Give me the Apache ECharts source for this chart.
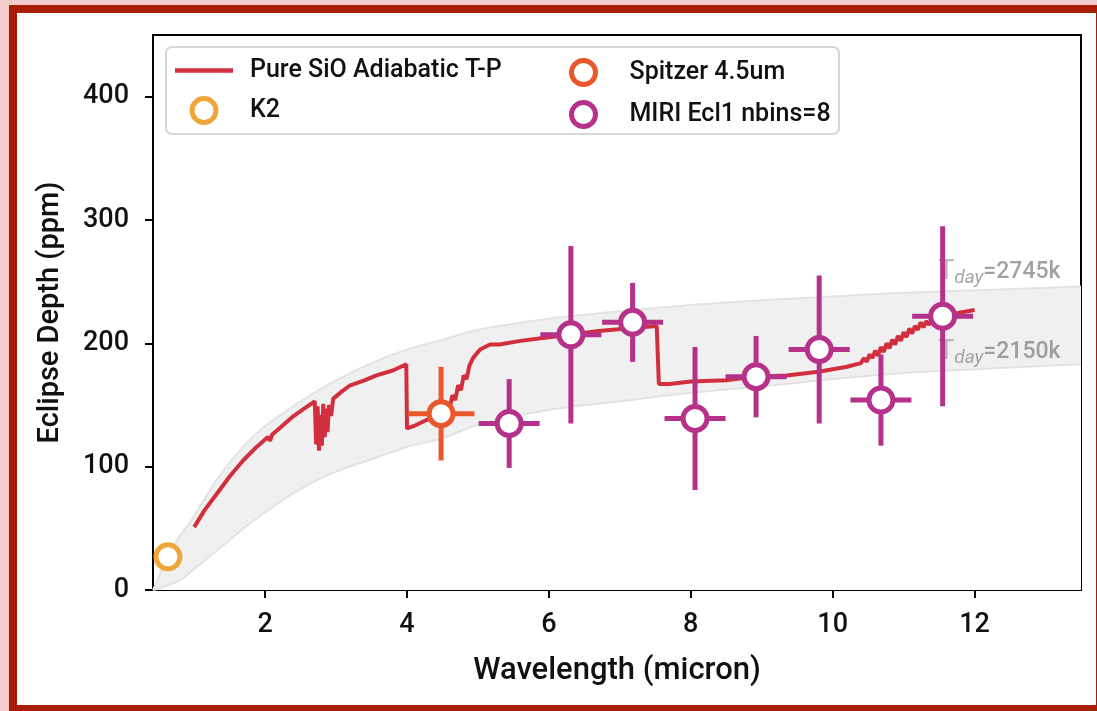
<!DOCTYPE html>
<html>
<head>
<meta charset="utf-8">
<script src="https://cdn.jsdelivr.net/npm/echarts@6/dist/echarts.min.js"></script>
<style>
  html, body { margin: 0; padding: 0; width: 1097px; height: 711px; overflow: hidden; background: #f4cbcb; }
  #frame { position: absolute; left: 9px; top: 5px; width: 1095px; height: 708px; box-sizing: border-box;
           border: 8px solid #a81d07; background: #ffffff; }
  #chart { position: absolute; left: 0; top: 0; width: 1097px; height: 711px; }
</style>
</head>
<body>
<div id="frame"></div>
<div id="chart"></div>
<script>
// Blackbody envelope between the two dayside temperatures (ppm)
const bandWave  = [0.42, 0.5, 0.6, 0.8, 1.0, 1.3, 1.7, 2.0, 2.5, 3.0, 3.5, 4.0, 4.5, 5.0, 6.0, 7.0, 8.0, 9.0, 10.0, 11.0, 12.0, 13.5];
const bandUpper = [0, 10, 25, 44, 60, 88, 117, 133, 153, 170, 184, 195, 203, 211, 220, 226, 231, 235, 238, 241, 243, 246];
const bandLower = [0, 1, 3, 8, 17, 31, 50, 63, 82, 96, 106, 116, 123, 134, 146, 153, 160, 165, 171, 176, 179, 183];

// Pure SiO adiabatic T-P model spectrum
const modelWave = [1.0, 1.15, 1.32, 1.5, 1.69, 1.88, 2.04, 2.07, 2.1, 2.2, 2.4, 2.55, 2.7,
  2.72, 2.74, 2.76, 2.78, 2.8, 2.82, 2.84, 2.86, 2.88, 2.9, 2.93, 2.96, 3.0, 3.06, 3.2, 3.4, 3.57, 3.8, 3.99,
  4.0, 4.1, 4.28, 4.45, 4.52, 4.56, 4.6, 4.64, 4.68, 4.72, 4.76, 4.8, 4.84, 4.88, 4.93, 5.03, 5.17, 5.3, 5.6,
  6.0, 6.3, 6.7, 7.1, 7.52, 7.55, 7.7, 8.0, 8.5, 8.9, 9.35, 9.8, 10.2, 10.4,
  10.44, 10.48, 10.52, 10.56, 10.6, 10.64, 10.68, 10.72, 10.76, 10.8, 10.84, 10.88, 10.92, 10.96, 11.0,
  11.04, 11.08, 11.12, 11.16, 11.2, 11.24, 11.28, 11.32, 11.36, 11.4, 11.45, 11.5, 11.6, 11.8, 12.0];
const modelDepth = [51, 65, 78, 92, 105, 116, 124, 121, 126, 131, 141, 147, 153,
  118, 149, 113, 142, 117, 151, 124, 147, 128, 150, 141, 155, 157, 160, 166, 170, 174, 178, 183,
  131, 133, 138, 141, 143, 150, 147, 158, 154, 166, 162, 174, 171, 182, 188, 195, 199, 199, 202,
  205, 207, 210, 212, 214, 167, 167, 169, 170, 173, 174, 177, 181, 184,
  188, 185, 191, 188, 194, 190, 197, 193, 200, 196, 203, 199, 206, 202, 209,
  205, 212, 208, 214, 211, 217, 213, 218, 215, 220, 218, 222, 222, 225, 227];

// K2 optical eclipse
const k2Wave = [0.63];
const k2Depth = [27];

// Spitzer 4.5 micron eclipse
const spitzerWave = [4.48];
const spitzerDepth = [143];
const spitzerErrY = [38];
const spitzerErrX = [0.47];

// MIRI eclipse 1, 8 spectral bins
const miriWave  = [5.44, 6.31, 7.18, 8.06, 8.92, 9.81, 10.68, 11.55];
const miriDepth = [135, 207, 217, 139, 173, 195, 154, 222];
const miriErrY  = [36, 72, 32, 58, 33, 60, 37, 73];
const miriErrX  = [0.43, 0.43, 0.43, 0.43, 0.43, 0.43, 0.43, 0.43];

// Temperature labels on the envelope
const tempLabels = [
  { wave: 11.48, depth: 258, text: '=2745k' },
  { wave: 11.48, depth: 193, text: '=2150k' }
];

const FONT = 'Roboto, "DejaVu Sans", sans-serif';
const RED = '#d12f3d', MIRI = '#b5318a', SPITZER = '#e8582a', K2C = '#f0a63a';

function zip(a, b) { return a.map((v, i) => [v, b[i]]); }

function errorBarSeries(name, color, wave, depth, ex, ey) {
  return {
    type: 'custom', name: name, silent: true, z: 5,
    data: wave.map((w, i) => [w, depth[i], ex[i], ey[i]]),
    renderItem: function (params, api) {
      const x = api.value(0), y = api.value(1), dx = api.value(2), dy = api.value(3);
      const l = api.coord([x - dx, y]), r = api.coord([x + dx, y]);
      const t = api.coord([x, y + dy]), b = api.coord([x, y - dy]);
      const st = { stroke: color, lineWidth: 5 };
      return { type: 'group', children: [
        { type: 'line', shape: { x1: l[0], y1: l[1], x2: r[0], y2: r[1] }, style: st },
        { type: 'line', shape: { x1: t[0], y1: t[1], x2: b[0], y2: b[1] }, style: st }
      ]};
    }
  };
}

function ringSeries(name, color, data) {
  return {
    type: 'scatter', name: name, z: 6, symbol: 'circle', symbolSize: 24,
    itemStyle: { color: '#ffffff', borderColor: color, borderWidth: 5, opacity: 1 },
    data: data
  };
}

function ringLegend(name, color) {
  return { name: name, icon: 'circle', itemStyle: { color: '#ffffff', borderColor: color, borderWidth: 5 } };
}

const chart = echarts.init(document.getElementById('chart'), null, { renderer: 'canvas' });

const legendText = { fontFamily: FONT, fontSize: 25, fontWeight: 500, color: '#111', padding: [0, 0, 0, 12] };
const LINE_ICON = 'path://M0,0 L58,0 L58,4.5 L0,4.5 Z';

chart.setOption({
  backgroundColor: 'transparent',
  animation: false,
  textStyle: { fontFamily: FONT },
  grid: { left: 153, right: 16, top: 35, bottom: 121, show: true, borderColor: '#000', borderWidth: 2, backgroundColor: 'transparent' },
  xAxis: {
    type: 'value', min: 0.42, max: 13.5,
    name: 'Wavelength (micron)', nameLocation: 'middle', nameGap: 66,
    nameTextStyle: { fontFamily: FONT, fontSize: 31, fontWeight: 500, color: '#111' },
    axisLine: { show: true, lineStyle: { color: '#000', width: 2 } },
    axisTick: { show: true, length: 8, lineStyle: { color: '#000', width: 2 }, customValues: [2, 4, 6, 8, 10, 12] },
    axisLabel: { fontFamily: FONT, fontSize: 27, fontWeight: 500, color: '#111', margin: 22, customValues: [2, 4, 6, 8, 10, 12] },
    splitLine: { show: false }
  },
  yAxis: {
    type: 'value', min: 0, max: 450,
    name: 'Eclipse Depth (ppm)', nameLocation: 'middle', nameGap: 88,
    nameTextStyle: { fontFamily: FONT, fontSize: 29, fontWeight: 500, color: '#111' },
    axisLine: { show: true, lineStyle: { color: '#000', width: 2 } },
    axisTick: { show: true, length: 8, lineStyle: { color: '#000', width: 2 }, customValues: [0, 100, 200, 300, 400] },
    axisLabel: { fontFamily: FONT, fontSize: 27, fontWeight: 500, color: '#111', margin: 24, customValues: [0, 100, 200, 300, 400] },
    splitLine: { show: false }
  },
  graphic: [{
    type: 'rect', left: 165, top: 46, z: 50,
    shape: { width: 673, height: 87, r: 6 },
    style: { fill: 'rgba(255,255,255,0.85)', stroke: '#d6d6d6', lineWidth: 2 }
  }],
  legend: [
    { left: 175, top: 58, padding: 0, orient: 'vertical', itemWidth: 58, itemHeight: 24, itemGap: 13, z: 60,
      data: [{ name: 'Pure SiO Adiabatic T-P', icon: LINE_ICON, itemStyle: { color: RED } }, ringLegend('K2', K2C)],
      textStyle: legendText },
    // only ring icons here, so the group's left edge is the first ring's outer edge
    { left: 569, top: 58, padding: 0, orient: 'vertical', itemWidth: 58, itemHeight: 24, itemGap: 13, z: 60,
      data: [ringLegend('Spitzer 4.5um', SPITZER), ringLegend('MIRI Ecl1 nbins=8', MIRI)],
      textStyle: legendText }
  ],
  series: [
    {
      // grey fill from the hot (upper) envelope down to zero
      type: 'line', name: 'envelope high', z: 1, zlevel: 0, silent: true, smooth: 0.3, symbol: 'none',
      lineStyle: { color: '#e3e3e3', width: 2 },
      areaStyle: { color: '#f0f0f0', opacity: 1 },
      data: zip(bandWave, bandUpper)
    },
    {
      // white fill under the cool (lower) envelope leaves only the band
      type: 'line', name: 'envelope low', z: 1, zlevel: 0, silent: true, smooth: 0.3, symbol: 'none',
      lineStyle: { color: '#e3e3e3', width: 2 },
      areaStyle: { color: '#ffffff', opacity: 1 },
      data: zip(bandWave, bandLower)
    },
    {
      type: 'line', name: 'Pure SiO Adiabatic T-P', z: 3, symbol: 'none', showSymbol: false,
      lineStyle: { color: RED, width: 4 }, itemStyle: { color: RED },
      data: zip(modelWave, modelDepth)
    },
    ringSeries('K2', K2C, zip(k2Wave, k2Depth)),
    errorBarSeries('Spitzer error', SPITZER, spitzerWave, spitzerDepth, spitzerErrX, spitzerErrY),
    ringSeries('Spitzer 4.5um', SPITZER, zip(spitzerWave, spitzerDepth)),
    errorBarSeries('MIRI error', MIRI, miriWave, miriDepth, miriErrX, miriErrY),
    ringSeries('MIRI Ecl1 nbins=8', MIRI, zip(miriWave, miriDepth)),
    {
      type: 'scatter', name: 'temperatures', silent: true, z: 4, symbolSize: 1,
      itemStyle: { color: 'transparent' },
      data: tempLabels.map(d => ({ value: [d.wave, d.depth], text: d.text })),
      label: {
        show: true, position: 'right', distance: 0,
        formatter: p => '{t|T}{s|day}{v|' + p.data.text + '}',
        rich: {
          t: { fontFamily: FONT, fontSize: 27, color: '#ababab' },
          s: { fontFamily: FONT, fontSize: 19, fontStyle: 'italic', color: '#8e8e8e', padding: [12, 0, 0, 0] },
          v: { fontFamily: FONT, fontSize: 23, fontWeight: 500, color: '#8a8a8a' }
        }
      }
    }
  ]
});
</script>
</body>
</html>
